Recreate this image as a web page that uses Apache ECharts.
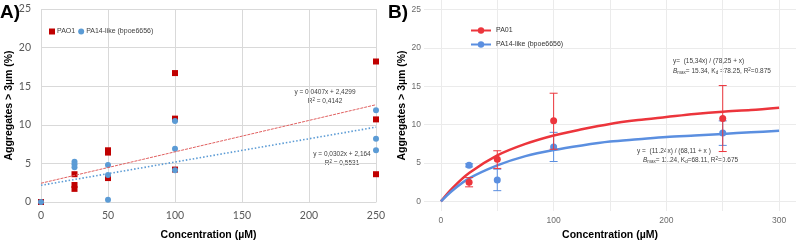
<!DOCTYPE html>
<html>
<head>
<meta charset="utf-8">
<script src="https://cdn.jsdelivr.net/npm/echarts@6/dist/echarts.min.js"></script>
<style>
  html, body { margin: 0; padding: 0; background: #fff; }
  #chart { width: 798px; height: 246px; }
</style>
</head>
<body>
<div id="chart"></div>
<script>
// ---- panel A: raw replicates ----
const pao1X = [0, 25, 25, 25, 50, 50, 50, 100, 100, 100, 250, 250, 250];
const pao1Y = [0, 3.6, 2.2, 1.7, 6.7, 6.4, 3.1, 16.7, 10.8, 4.2, 18.2, 10.7, 3.6];
const pa14X = [0, 25, 25, 25, 50, 50, 50, 100, 100, 100, 250, 250, 250];
const pa14Y = [0, 5.2, 4.9, 4.5, 4.8, 3.5, 0.3, 10.5, 6.9, 4.1, 11.9, 8.2, 6.7];
// linear trendlines (end points)
const trendX = [0, 250];
const pao1Trend = [2.43, 12.6];
const pa14Trend = [2.16, 9.7];

// ---- panel B: means, error bars, fitted curves ----
const concB = [25, 50, 100, 250];
const pao1Mean = [2.5, 5.5, 10.5, 10.8];
const pao1Low = [1.9, 4.3, 6.8, 6.5];
const pao1High = [3.1, 6.6, 14.1, 15.1];
const pa14Mean = [4.7, 2.8, 7.1, 8.9];
const pa14Low = [4.5, 1.4, 5.2, 7.3];
const pa14High = [4.9, 4.2, 9.0, 10.5];
const curveX = [0, 10, 25, 50, 75, 100, 125, 150, 175, 200, 225, 250, 275, 300];
const pao1Curve = [0, 1.7, 3.7, 6.0, 7.5, 8.6, 9.4, 10.1, 10.6, 11.0, 11.4, 11.7, 11.9, 12.2];
const pa14Curve = [0, 1.4, 3.0, 4.7, 5.9, 6.7, 7.3, 7.8, 8.1, 8.4, 8.6, 8.8, 9.0, 9.2];

const xLabelsB = [0, 100, 200, 300];
const xGridB = [0, 50, 100, 150, 200, 250, 300];
const yTicks = [0, 5, 10, 15, 20, 25];

const redA = '#c00000';
const blueA = '#5b9bd5';
const redB = '#ec353c';
const blueB = '#5b8fe0';

const zip = (xs, ys) => xs.map((x, i) => [x, ys[i]]);

// vertical error bar with caps
const errorBar = (color) => (params, api) => {
  const top = api.coord([api.value(0), api.value(2)]);
  const bot = api.coord([api.value(0), api.value(1)]);
  const w = 4;
  const st = { stroke: color, lineWidth: 1 };
  return {
    type: 'group',
    children: [
      { type: 'line', shape: { x1: top[0], y1: top[1], x2: bot[0], y2: bot[1] }, style: st },
      { type: 'line', shape: { x1: top[0] - w, y1: top[1], x2: top[0] + w, y2: top[1] }, style: st },
      { type: 'line', shape: { x1: bot[0] - w, y1: bot[1], x2: bot[0] + w, y2: bot[1] }, style: st },
    ],
  };
};

const titleFont = '"Liberation Sans", Arial, sans-serif';
const eqFont = '"Liberation Sans", Arial, sans-serif';
const eqStyle = { fontSize: 6.5, fill: '#404040', fontFamily: eqFont };
const eqRich = {
  i: { fontStyle: 'italic', fontSize: 6.5, fill: '#404040', fontFamily: eqFont },
  s: { fontSize: 4.5, fill: '#404040', fontFamily: eqFont, padding: [4, 0, 0, 0] },
  p: { fontSize: 4.5, fill: '#404040', fontFamily: eqFont, padding: [0, 0, 3, 0] },
  n: { fontSize: 6.5, fill: '#404040', fontFamily: eqFont },
};
const titleStyle = { fontSize: 10.5, fontWeight: 'bold', color: '#000', fontFamily: titleFont };

const myChart = echarts.init(document.getElementById('chart'), null, { renderer: 'canvas' });
const option = {
  animation: false,
  grid: [
    { left: 41, top: 9, width: 335, height: 200 },
    { left: 424, top: 0, width: 372, height: 219 },
  ],
  xAxis: [
    {
      gridIndex: 0,
      type: 'value',
      min: 0,
      max: 250,
      interval: 50,
      axisLine: { show: true, lineStyle: { color: '#d9d9d9' } },
      axisTick: { show: false },
      axisLabel: { color: '#595959', fontSize: 10.5, fontFamily: 'Lato, sans-serif', margin: 8 },
      splitLine: { show: true, lineStyle: { color: '#d9d9d9' } },
      name: 'Concentration (µM)',
      nameLocation: 'middle',
      nameGap: 28,
      nameTextStyle: titleStyle,
    },
    {
      gridIndex: 1,
      type: 'value',
      min: -15,
      max: 315,
      axisLine: { show: false },
      axisTick: { show: false, customValues: xGridB },
      axisLabel: { customValues: xLabelsB, color: '#6b6b6b', fontSize: 8.5, margin: 5 },
      splitLine: { show: true, lineStyle: { color: '#ebebeb' } },
      name: 'Concentration (µM)',
      nameLocation: 'middle',
      nameGap: 19,
      nameTextStyle: titleStyle,
    },
  ],
  yAxis: [
    {
      gridIndex: 0,
      type: 'value',
      min: 0,
      max: 25,
      interval: 5,
      axisLine: { show: false },
      axisTick: { show: false },
      axisLabel: { color: '#595959', fontSize: 10.5, fontFamily: 'Lato, sans-serif', margin: 10 },
      splitLine: { show: true, lineStyle: { color: '#d9d9d9' } },
      name: 'Aggregates > 3µm (%)',
      nameLocation: 'middle',
      nameGap: 21,
      nameTextStyle: titleStyle,
    },
    {
      gridIndex: 1,
      type: 'value',
      min: -1.25,
      max: 26.25,
      axisLine: { show: false },
      axisTick: { show: false, customValues: yTicks },
      axisLabel: { customValues: yTicks, color: '#6b6b6b', fontSize: 8.5, margin: 3 },
      splitLine: { show: true, lineStyle: { color: '#ebebeb' } },
      name: 'Aggregates > 3µm (%)',
      nameLocation: 'middle',
      nameGap: 14,
      nameTextStyle: titleStyle,
    },
  ],
  legend: [
    {
      left: 44,
      top: 23,
      itemWidth: 6,
      itemHeight: 6,
      itemGap: 3,
      textStyle: { fontSize: 7, color: '#404040', padding: [0, 0, 0, -3] },
      data: [
        { name: 'PAO1', icon: 'rect' },
        { name: 'PA14-like (bpoe6656)', icon: 'circle' },
      ],
    },
    {
      left: 465,
      top: 22,
      orient: 'vertical',
      itemWidth: 20,
      itemHeight: 8,
      itemGap: 7,
      textStyle: { fontSize: 7, color: '#333' },
      data: ['PA01', 'PA14-like (bpoe6656) '],
    },
  ],
  graphic: [
    { type: 'text', left: 0, top: 3, style: { text: 'A)', fontSize: 19, fontWeight: 'bold', fill: '#000', fontFamily: titleFont } },
    { type: 'text', left: 388, top: 3, style: { text: 'B)', fontSize: 19, fontWeight: 'bold', fill: '#000', fontFamily: titleFont } },
    { type: 'text', x: 325, y: 92, style: Object.assign({ text: 'y = 0,0407x + 2,4299', align: 'center', verticalAlign: 'middle' }, eqStyle) },
    { type: 'text', x: 325, y: 101, style: Object.assign({ text: '{n|R}{p|2}{n| = 0,4142}', align: 'center', verticalAlign: 'middle', rich: eqRich }, eqStyle) },
    { type: 'text', x: 342, y: 154, style: Object.assign({ text: 'y = 0,0302x + 2,164', align: 'center', verticalAlign: 'middle' }, eqStyle) },
    { type: 'text', x: 342, y: 163, style: Object.assign({ text: '{n|R}{p|2}{n| = 0,5531}', align: 'center', verticalAlign: 'middle', rich: eqRich }, eqStyle) },
    { type: 'text', x: 673, y: 61, style: Object.assign({ text: 'y=  (15,34x) / (78,25 + x)', verticalAlign: 'middle' }, eqStyle) },
    { type: 'text', x: 673, y: 71, style: Object.assign({ text: '{i|B}{s|max}{n|= 15.34, K}{s|d}{n| =78.25, R}{p|2}{n|=0.875}', verticalAlign: 'middle', rich: eqRich }, eqStyle) },
    { type: 'text', x: 637, y: 151, style: Object.assign({ text: 'y =  (11.24x) / (68,11 + x )', verticalAlign: 'middle' }, eqStyle) },
    { type: 'text', x: 643, y: 160, style: Object.assign({ text: '{i|B}{s|max}{n|= 11.24, K}{s|d}{n|=68.11, R}{p|2}{n|=0.675}', verticalAlign: 'middle', rich: eqRich }, eqStyle) },
  ],
  series: [
    // panel A
    {
      name: 'PAO1',
      type: 'scatter',
      xAxisIndex: 0,
      yAxisIndex: 0,
      symbol: 'rect',
      symbolSize: 6,
      itemStyle: { color: redA, opacity: 1 },
      data: zip(pao1X, pao1Y),
    },
    {
      name: 'PA14-like (bpoe6656)',
      type: 'scatter',
      xAxisIndex: 0,
      yAxisIndex: 0,
      symbol: 'circle',
      symbolSize: 6,
      itemStyle: { color: blueA, opacity: 1 },
      data: zip(pa14X, pa14Y),
    },
    {
      name: 'pao1Trend',
      type: 'line',
      xAxisIndex: 0,
      yAxisIndex: 0,
      showSymbol: false,
      lineStyle: { color: '#e06060', width: 1, type: [3, 1] },
      data: zip(trendX, pao1Trend),
    },
    {
      name: 'pa14Trend',
      type: 'line',
      xAxisIndex: 0,
      yAxisIndex: 0,
      showSymbol: false,
      lineStyle: { color: blueA, width: 1.6, type: [1.5, 2] },
      data: zip(trendX, pa14Trend),
    },
    // panel B
    {
      name: 'PA01',
      type: 'line',
      xAxisIndex: 1,
      yAxisIndex: 1,
      smooth: 0.3,
      symbol: 'circle',
      symbolSize: 7,
      showSymbol: false,
      itemStyle: { color: redB },
      lineStyle: { color: redB, width: 2.5 },
      data: zip(curveX, pao1Curve),
    },
    {
      name: 'PA14-like (bpoe6656) ',
      type: 'line',
      xAxisIndex: 1,
      yAxisIndex: 1,
      smooth: 0.3,
      symbol: 'circle',
      symbolSize: 7,
      showSymbol: false,
      itemStyle: { color: blueB },
      lineStyle: { color: blueB, width: 2.5 },
      data: zip(curveX, pa14Curve),
    },
    {
      type: 'custom',
      xAxisIndex: 1,
      yAxisIndex: 1,
      renderItem: errorBar(blueB),
      data: concB.map((x, i) => [x, pa14Low[i], pa14High[i]]),
      z: 3,
    },
    {
      type: 'scatter',
      xAxisIndex: 1,
      yAxisIndex: 1,
      symbolSize: 7,
      itemStyle: { color: blueB, opacity: 1 },
      data: zip(concB, pa14Mean),
      z: 3,
    },
    {
      type: 'custom',
      xAxisIndex: 1,
      yAxisIndex: 1,
      renderItem: errorBar(redB),
      data: concB.map((x, i) => [x, pao1Low[i], pao1High[i]]),
      z: 4,
    },
    {
      type: 'scatter',
      xAxisIndex: 1,
      yAxisIndex: 1,
      symbolSize: 7,
      itemStyle: { color: redB, opacity: 1 },
      data: zip(concB, pao1Mean),
      z: 4,
    },
  ],
};
myChart.setOption(option);
</script>
</body>
</html>
